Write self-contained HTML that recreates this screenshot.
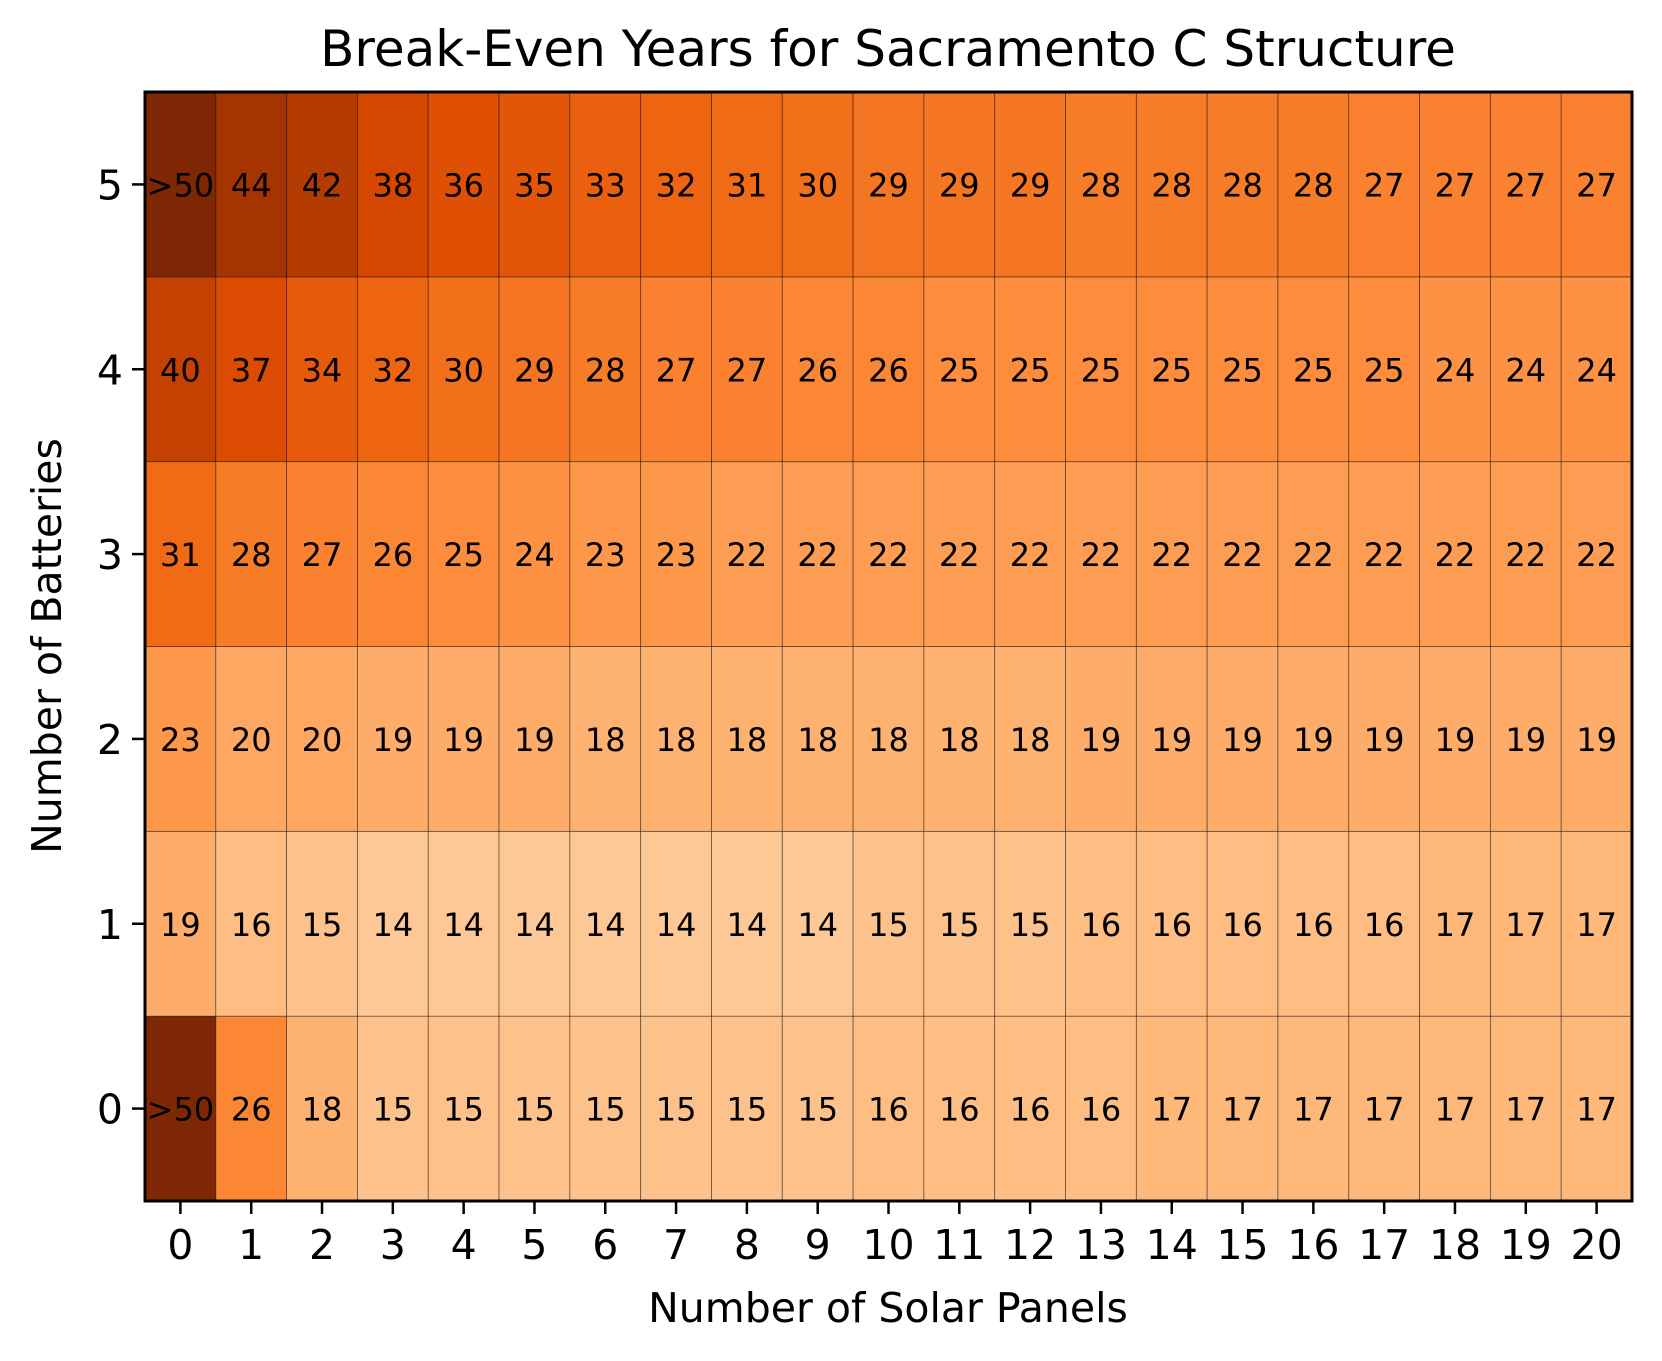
<!DOCTYPE html>
<html><head><meta charset="utf-8"><style>
body{margin:0;background:#fff}
svg{display:block;font-family:"DejaVu Sans","Liberation Sans",sans-serif}
</style></head><body>
<svg id="chart" width="1662" height="1361" viewBox="0 0 1662 1361">
<rect width="1662" height="1361" fill="#fff"/>
<text x="888" y="66" font-size="50" text-anchor="middle">Break-Even Years for Sacramento C Structure</text>
<text x="888" y="1322" font-size="41" text-anchor="middle">Number of Solar Panels</text>
<text transform="translate(61,646) rotate(-90)" font-size="41" text-anchor="middle">Number of Batteries</text>
<g id="cells"></g><g id="ticks"></g>
<rect x="145" y="92" width="1487" height="1109" fill="none" stroke="#000" stroke-width="3"/>
</svg>
<script>
const panels=[0,1,2,3,4,5,6,7,8,9,10,11,12,13,14,15,16,17,18,19,20];
const batteries=[0,1,2,3,4,5];
const row0=[51,26,18,15,15,15,15,15,15,15,16,16,16,16,17,17,17,17,17,17,17];
const row1=[19,16,15,14,14,14,14,14,14,14,15,15,15,16,16,16,16,16,17,17,17];
const row2=[23,20,20,19,19,19,18,18,18,18,18,18,18,19,19,19,19,19,19,19,19];
const row3=[31,28,27,26,25,24,23,23,22,22,22,22,22,22,22,22,22,22,22,22,22];
const row4=[40,37,34,32,30,29,28,27,27,26,26,25,25,25,25,25,25,25,24,24,24];
const row5=[51,44,42,38,36,35,33,32,31,30,29,29,29,28,28,28,28,27,27,27,27];
const rows=[row0,row1,row2,row3,row4,row5];
const L=145,T=92,R=1632,B=1201;
const cw=(R-L)/panels.length, ch=(B-T)/batteries.length;
const xc=i=>L+cw*(i+0.5);
const yc=j=>B-ch*(j+0.5);
const stops=["#fff5eb","#fee6ce","#fdd0a2","#fdae6b","#fd8d3c","#f16913","#d94801","#a63603","#7f2704"];
function hex(h){return [1,3,5].map(k=>parseInt(h.substr(k,2),16));}
function color(v){let t=Math.max(0,Math.min(1,v/50))*8;let i=Math.min(7,Math.floor(t));let f=t-i;
const a=hex(stops[i]),b=hex(stops[i+1]);return "rgb("+a.map((c,k)=>Math.round(c+(b[k]-c)*f)).join(",")+")";}
const NS="http://www.w3.org/2000/svg";
const cells=document.getElementById('cells'),ticks=document.getElementById('ticks');
rows.forEach((r,j)=>r.forEach((v,i)=>{
 const rc=document.createElementNS(NS,'rect');
 rc.setAttribute('x',xc(i)-cw/2);rc.setAttribute('y',yc(j)-ch/2);
 rc.setAttribute('width',cw);rc.setAttribute('height',ch);
 rc.setAttribute('fill',color(v));rc.setAttribute('stroke','rgba(0,0,0,0.5)');rc.setAttribute('stroke-width','0.8');
 
 
 cells.appendChild(rc);
 const tx=document.createElementNS(NS,'text');
 tx.setAttribute('x',xc(i));tx.setAttribute('y',yc(j)+12);
 tx.setAttribute('font-size','32');tx.setAttribute('text-anchor','middle');
 tx.textContent=v>50?'>50':String(v);
 
 
 cells.appendChild(tx);
}));
panels.forEach((p,i)=>{
 const ln=document.createElementNS(NS,'line');
 ln.setAttribute('x1',xc(i));ln.setAttribute('x2',xc(i));ln.setAttribute('y1',B);ln.setAttribute('y2',B+13);
 ln.setAttribute('stroke','#000');ln.setAttribute('stroke-width','2.5');
 
 
 ticks.appendChild(ln);
 const t=document.createElementNS(NS,'text');
 t.setAttribute('x',xc(i));t.setAttribute('y',B+58);t.setAttribute('font-size','41');t.setAttribute('text-anchor','middle');
 t.textContent=p;
 
 
 ticks.appendChild(t);
});
batteries.forEach((b,j)=>{
 const ln=document.createElementNS(NS,'line');
 ln.setAttribute('x1',L-13);ln.setAttribute('x2',L);ln.setAttribute('y1',yc(j));ln.setAttribute('y2',yc(j));
 ln.setAttribute('stroke','#000');ln.setAttribute('stroke-width','2.5');
 
 
 ticks.appendChild(ln);
 const t=document.createElementNS(NS,'text');
 t.setAttribute('x',L-22);t.setAttribute('y',yc(j)+15);t.setAttribute('font-size','41');t.setAttribute('text-anchor','end');
 t.textContent=b;
 
 
 ticks.appendChild(t);
});
</script>
</body></html>
